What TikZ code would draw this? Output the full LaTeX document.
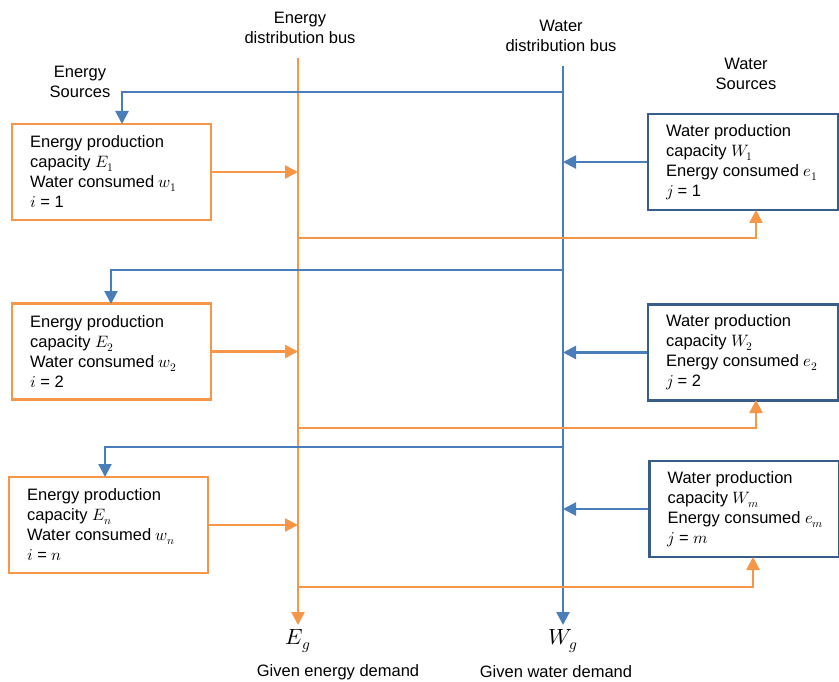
\documentclass[tikz,border=0pt]{standalone}
\usepackage{fontspec}
\usepackage{unicode-math}
\setmainfont{Liberation Sans}
\setmathfont{Latin Modern Math}
\usetikzlibrary{arrows.meta,calc}
\definecolor{eorange}{HTML}{F79646}
\definecolor{wblue}{HTML}{4A7EBB}
\definecolor{wdark}{HTML}{385D8A}
\begin{document}
\begin{tikzpicture}[x=1pt,y=-1pt,
  every node/.style={font=\fontsize{16.5}{20}\selectfont},
  ebox/.style={draw=eorange,line width=2.2pt,minimum width=199pt,minimum height=96pt,inner sep=0pt},
  wbox/.style={draw=wdark,line width=2.2pt,minimum width=190pt,minimum height=96pt,inner sep=0pt},
  btxt/.style={anchor=west,align=left,inner sep=0pt,xshift=19pt},
  oline/.style={draw=eorange,line width=2.5pt},
  bline/.style={draw=wblue,line width=2.2pt},
  oarrow/.style={oline,-{Triangle[length=13pt,width=13pt]}},
  barrow/.style={bline,-{Triangle[length=13pt,width=13pt]}},
  lbl/.style={align=center}
]
\useasboundingbox (0,0) rectangle (839,682);
% buses
\coordinate (eTop) at (298,58);
\coordinate (eBot) at (298,625);
\coordinate (wTop) at (563,66);
\coordinate (wBot) at (563,625);
\draw[oarrow] (eTop) -- (eBot);
\draw[barrow] (wTop) -- (wBot);
% labels
\node[lbl] (elab) at (300,28) {Energy\\distribution bus};
\node[lbl] (wlab) at (561,36) {Water\\distribution bus};
\node[lbl] (eslab) at (80,82) {Energy\\Sources};
\node[lbl] (wslab) at (746,74) {Water\\Sources};
\node (Eg) at (298,641) {\fontsize{22}{24}\selectfont$E_g$};
\node (Wg) at (563,641) {\fontsize{22}{24}\selectfont$W_g$};
\node (ged) at (338,672) {Given energy demand};
\node (gwd) at (556,672) {Given water demand};
% energy boxes
\node[ebox] (eb1) at (111.5,172) {};
\node[ebox] (eb2) at (111.5,351.5) {};
\node[ebox] (eb3) at (108.5,525) {};
\node[btxt] (et1) at (eb1.west) {Energy production\\capacity $E_1$\\Water consumed $w_1$\\$i$ = 1};
\node[btxt] (et2) at (eb2.west) {Energy production\\capacity $E_2$\\Water consumed $w_2$\\$i$ = 2};
\node[btxt] (et3) at (eb3.west) {Energy production\\capacity $E_n$\\Water consumed $w_n$\\$i$ = $n$};
% water boxes
\node[wbox] (wb1) at (743,162) {};
\node[wbox] (wb2) at (743,352.5) {};
\node[wbox] (wb3) at (744.5,509) {};
\node[btxt] (wt1) at (wb1.west) {Water production\\capacity $W_1$\\Energy consumed $e_1$\\$j$ = 1};
\node[btxt] (wt2) at (wb2.west) {Water production\\capacity $W_2$\\Energy consumed $e_2$\\$j$ = 2};
\node[btxt] (wt3) at (wb3.west) {Water production\\capacity $W_m$\\Energy consumed $e_m$\\$j$ = $m$};
% energy to bus
\draw[oarrow] (eb1.east) -- (eb1.east -| eTop);
\draw[oarrow] (eb2.east) -- (eb2.east -| eTop);
\draw[oarrow] (eb3.east) -- (eb3.east -| eTop);
% water to bus
\draw[barrow] (wb1.west) -- (wb1.west -| wTop);
\draw[barrow] (wb2.west) -- (wb2.west -| wTop);
\draw[barrow] (wb3.west) -- (wb3.west -| wTop);
% water supply to energy boxes
\coordinate (wj1) at (563,92);
\coordinate (wj2) at (563,270);
\coordinate (wj3) at (563,447);
\coordinate (ei1) at (122,124);
\coordinate (ei2) at (111,304);
\coordinate (ei3) at (105,477);
\draw[barrow] (wj1) -| (ei1);
\draw[barrow] (wj2) -| (ei2);
\draw[barrow] (wj3) -| (ei3);
% energy supply to water boxes
\coordinate (ej1) at (298,238);
\coordinate (ej2) at (298,428);
\coordinate (ej3) at (298,587);
\coordinate (wi1) at (756,210);
\coordinate (wi2) at (756,400);
\coordinate (wi3) at (753,557);
\draw[oarrow] (ej1) -| (wi1);
\draw[oarrow] (ej2) -| (wi2);
\draw[oarrow] (ej3) -| (wi3);
\end{tikzpicture}
\end{document}
